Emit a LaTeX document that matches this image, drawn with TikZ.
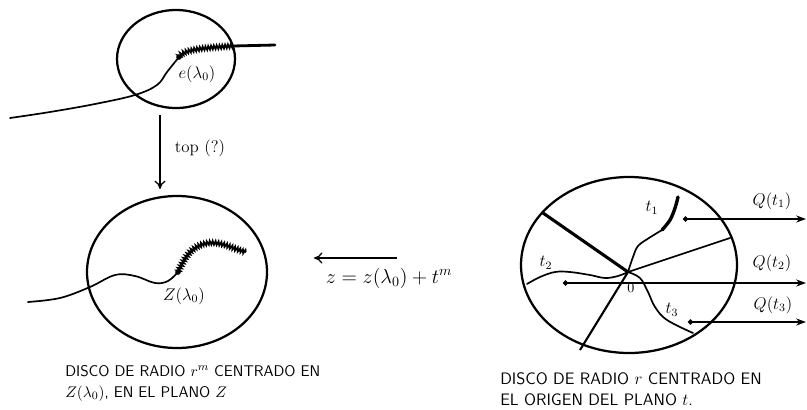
\documentclass[tikz,border=0pt]{standalone}
\usepackage{amsmath,amssymb}
\usepackage{tikz}
\usetikzlibrary{arrows.meta,decorations.pathmorphing}

\begin{document}
\begin{tikzpicture}[x=0.025cm,y=-0.025cm,
  disc/.style={line width=1.6pt},
  curv/.style={line width=1.2pt,line cap=round},
  wig/.style={line width=1.2pt,decorate,decoration={zigzag,amplitude=1.4pt,segment length=2pt}},
  maparrow/.style={line width=0.9pt,-{To[length=6pt,width=8pt]}},
  qarrow/.style={line width=1.2pt,{Circle[length=3.5pt]}-{Stealth[length=7pt,width=5pt]}},
  lbl/.style={font=\large},
  captext/.style={font=\sffamily\fontsize{11}{15}\selectfont,align=left,anchor=north west,inner sep=0pt}]
\useasboundingbox (0,0) rectangle (807,409);

% --- disc around e(lambda_0), top ---
\begin{scope}
  \draw[disc] (176,59) ellipse [x radius=59, y radius=49];
  \coordinate (e0) at (179,57);
  \coordinate (e1) at (233,46);
  \draw[curv] plot[smooth,tension=0.6] coordinates {(10,118) (50,112) (95,104) (135,95) (157,85) (167,72) (179,57)};
  \draw[wig] (e0) .. controls (183,50) and (200,48) .. (e1);
  \draw[line width=2pt,line cap=round] (e1) -- (275,45);
  \fill (e0) circle (2pt);
  \node[lbl] (elab) at (197,74) {$e(\lambda_0)$};
\end{scope}

% --- vertical map ---
\coordinate (topA) at (160,115);
\coordinate (topB) at (160,189);
\draw[maparrow] (topA) -- (topB);
\node[lbl,anchor=west] (toplab) at (170,148) {top (?)};

% --- disc of radio r^m in the z plane ---
\begin{scope}
  \draw[disc] (177,272) ellipse [x radius=90, y radius=76];
  \coordinate (z0) at (178,272);
  \draw[curv] plot[smooth,tension=0.6] coordinates {(28,302) (60,298) (90,287) (115,275) (135,276) (155,283) (168,281) (178,272)};
  \draw[wig] (z0) .. controls (186,255) and (192,246) .. (208,243) .. controls (222,241) and (235,250) .. (246,252);
  \fill (z0) circle (2pt);
  \node[lbl] (zlab) at (184,296) {$Z(\lambda_0)$};
  \node[captext] (capz) at (65,365) {DISCO DE RADIO $r^m$ CENTRADO EN\\$Z(\lambda_0)$, EN EL PLANO $Z$};
\end{scope}

% --- map z = z(lambda_0) + t^m ---
\coordinate (mapA) at (397,258);
\coordinate (mapB) at (314,258);
\draw[maparrow] (mapA) -- (mapB);
\node[font=\Large] (maplab) at (389,278) {$z=z(\lambda_0)+t^m$};

% --- disc of radio r in the t plane ---
\begin{scope}
  \draw[disc] (629,265) ellipse [x radius=108, y radius=88];
  \coordinate (O) at (628,272);
  \coordinate (s1) at (543,213);
  \coordinate (s2) at (730,238);
  \coordinate (s3) at (580,350);
  \draw[line width=2.2pt] (O) -- (s1);
  \draw[curv] (O) -- (s2);
  \draw[line width=1.5pt] (O) -- (s3);
  % t_1
  \draw[curv] plot[smooth,tension=0.6] coordinates {(628,272) (633,257) (638,246) (649,238) (662,230)};
  \draw[line width=2.4pt,line cap=round] plot[smooth,tension=0.6] coordinates {(662,230) (670,220) (675,208) (678,197)};
  % t_2
  \draw[curv] plot[smooth,tension=0.6] coordinates {(527,284) (540,277) (555,272) (570,272) (590,275) (605,278) (618,276) (628,272)};
  % t_3
  \draw[curv] plot[smooth,tension=0.6] coordinates {(628,272) (640,278) (648,292) (655,307) (667,320) (693,333)};
  \node[lbl] (t1lab) at (652,208) {$t_1$};
  \node[lbl] (t2lab) at (546,263) {$t_2$};
  \node[lbl] (t3lab) at (672,310) {$t_3$};
  \node (olab) at (631,288) {$0$};
  % Q(t_i)
  \coordinate (q1a) at (683,219);
  \coordinate (q1b) at (806,219);
  \coordinate (q2a) at (563,283);
  \coordinate (q2b) at (806,283);
  \coordinate (q3a) at (688,322);
  \coordinate (q3b) at (806,322);
  \draw[qarrow] (q1a) -- (q1b);
  \draw[qarrow] (q2a) -- (q2b);
  \draw[qarrow] (q3a) -- (q3b);
  \node[lbl] (q1lab) at (772,201) {$Q(t_1)$};
  \node[lbl] (q2lab) at (772,263) {$Q(t_2)$};
  \node[lbl] (q3lab) at (773,305) {$Q(t_3)$};
  \node[captext,font=\sffamily\fontsize{11.8}{15}\selectfont] (capt) at (500,372) {DISCO DE RADIO $r$ CENTRADO EN\\EL ORIGEN DEL PLANO $t$.};
\end{scope}
\end{tikzpicture}
\end{document}
